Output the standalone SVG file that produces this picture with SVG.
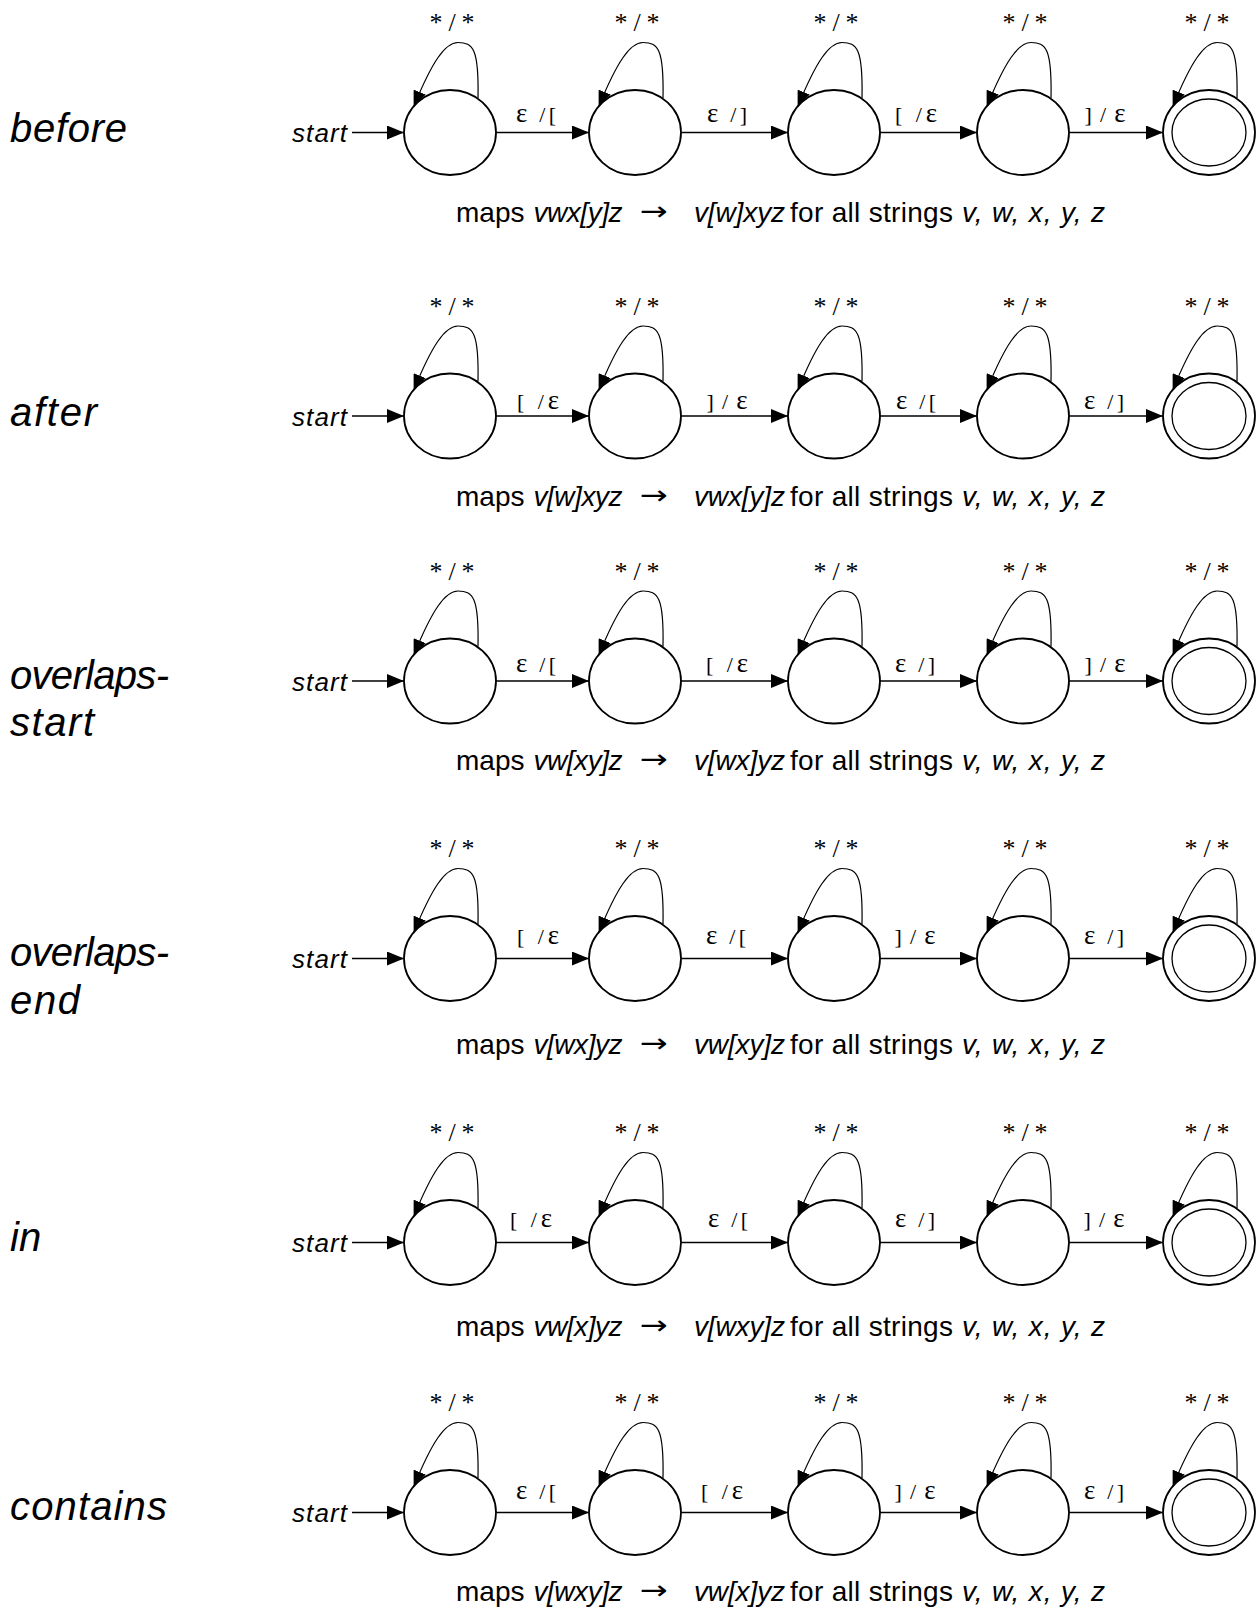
<svg xmlns="http://www.w3.org/2000/svg" width="1260" height="1608" viewBox="0 0 1260 1608">
<style>
.bg{fill:#fff}
.st{fill:#fff;stroke:#000;stroke-width:1.8}
.in{fill:none;stroke:#000;stroke-width:1.3}
.ln{fill:none;stroke:#000;stroke-width:1.3;marker-end:url(#ah)}
.lp{fill:none;stroke:#000;stroke-width:1.2;marker-end:url(#ahs)}
.row{font-family:"Liberation Sans",Arial,sans-serif;font-style:italic;font-size:40px;fill:#000}
.sl{font-family:"Liberation Sans",Arial,sans-serif;font-style:italic;font-size:26px;fill:#000}
.el{font-family:"Liberation Serif","Times New Roman",serif;font-size:22px;fill:#000;text-anchor:middle}
.e{font-size:27px}
.ll{font-family:"Liberation Serif","Times New Roman",serif;font-size:26px;fill:#000;text-anchor:middle}
.cap{font-family:"Liberation Sans",Arial,sans-serif;font-size:28px;fill:#000}
.i{font-style:italic}
.ar{font-family:"DejaVu Sans",sans-serif;font-size:26px;fill:#000}
</style>
<defs>
<marker id="ah" markerUnits="userSpaceOnUse" markerWidth="17" markerHeight="14" refX="17" refY="7" orient="auto"><path d="M0,0 L17,7 L0,14 z" fill="#000"/></marker>
<marker id="ahs" markerUnits="userSpaceOnUse" markerWidth="16" markerHeight="13" refX="15" refY="6.5" orient="auto"><path d="M0,0 L16,6.5 L0,13 z" fill="#000"/></marker>
</defs>
<rect class="bg" x="0" y="0" width="1260" height="1608"/>

<!-- Row labels -->
<g id="labels">
<text class="row" x="10" y="141.5" textLength="117" lengthAdjust="spacing">before</text>
<text class="row" x="10" y="425.5" textLength="87" lengthAdjust="spacing">after</text>
<text class="row" x="10" y="689" textLength="159" lengthAdjust="spacing">overlaps-</text>
<text class="row" x="10" y="736" textLength="84" lengthAdjust="spacing">start</text>
<text class="row" x="10" y="966" textLength="159" lengthAdjust="spacing">overlaps-</text>
<text class="row" x="10" y="1014" textLength="70" lengthAdjust="spacing">end</text>
<text class="row" x="10" y="1251">in</text>
<text class="row" x="10" y="1520" textLength="157" lengthAdjust="spacing">contains</text>
</g>

<!-- Nodes -->
<g id="r1n1"><ellipse class="st" cx="450" cy="132.5" rx="46" ry="42.5"/></g>
<g id="r1n2"><ellipse class="st" cx="635" cy="132.5" rx="46" ry="42.5"/></g>
<g id="r1n3"><ellipse class="st" cx="834" cy="132.5" rx="46" ry="42.5"/></g>
<g id="r1n4"><ellipse class="st" cx="1023" cy="132.5" rx="46" ry="42.5"/></g>
<g id="r1n5"><ellipse class="st" cx="1209" cy="132.5" rx="46" ry="42.5"/><ellipse class="in" cx="1209" cy="132.5" rx="37" ry="33.5"/></g>

<g id="r2n1"><ellipse class="st" cx="450" cy="416" rx="46" ry="42.5"/></g>
<g id="r2n2"><ellipse class="st" cx="635" cy="416" rx="46" ry="42.5"/></g>
<g id="r2n3"><ellipse class="st" cx="834" cy="416" rx="46" ry="42.5"/></g>
<g id="r2n4"><ellipse class="st" cx="1023" cy="416" rx="46" ry="42.5"/></g>
<g id="r2n5"><ellipse class="st" cx="1209" cy="416" rx="46" ry="42.5"/><ellipse class="in" cx="1209" cy="416" rx="37" ry="33.5"/></g>

<g id="r3n1"><ellipse class="st" cx="450" cy="681" rx="46" ry="42.5"/></g>
<g id="r3n2"><ellipse class="st" cx="635" cy="681" rx="46" ry="42.5"/></g>
<g id="r3n3"><ellipse class="st" cx="834" cy="681" rx="46" ry="42.5"/></g>
<g id="r3n4"><ellipse class="st" cx="1023" cy="681" rx="46" ry="42.5"/></g>
<g id="r3n5"><ellipse class="st" cx="1209" cy="681" rx="46" ry="42.5"/><ellipse class="in" cx="1209" cy="681" rx="37" ry="33.5"/></g>

<g id="r4n1"><ellipse class="st" cx="450" cy="958.5" rx="46" ry="42.5"/></g>
<g id="r4n2"><ellipse class="st" cx="635" cy="958.5" rx="46" ry="42.5"/></g>
<g id="r4n3"><ellipse class="st" cx="834" cy="958.5" rx="46" ry="42.5"/></g>
<g id="r4n4"><ellipse class="st" cx="1023" cy="958.5" rx="46" ry="42.5"/></g>
<g id="r4n5"><ellipse class="st" cx="1209" cy="958.5" rx="46" ry="42.5"/><ellipse class="in" cx="1209" cy="958.5" rx="37" ry="33.5"/></g>

<g id="r5n1"><ellipse class="st" cx="450" cy="1242.5" rx="46" ry="42.5"/></g>
<g id="r5n2"><ellipse class="st" cx="635" cy="1242.5" rx="46" ry="42.5"/></g>
<g id="r5n3"><ellipse class="st" cx="834" cy="1242.5" rx="46" ry="42.5"/></g>
<g id="r5n4"><ellipse class="st" cx="1023" cy="1242.5" rx="46" ry="42.5"/></g>
<g id="r5n5"><ellipse class="st" cx="1209" cy="1242.5" rx="46" ry="42.5"/><ellipse class="in" cx="1209" cy="1242.5" rx="37" ry="33.5"/></g>

<g id="r6n1"><ellipse class="st" cx="450" cy="1512.5" rx="46" ry="42.5"/></g>
<g id="r6n2"><ellipse class="st" cx="635" cy="1512.5" rx="46" ry="42.5"/></g>
<g id="r6n3"><ellipse class="st" cx="834" cy="1512.5" rx="46" ry="42.5"/></g>
<g id="r6n4"><ellipse class="st" cx="1023" cy="1512.5" rx="46" ry="42.5"/></g>
<g id="r6n5"><ellipse class="st" cx="1209" cy="1512.5" rx="46" ry="42.5"/><ellipse class="in" cx="1209" cy="1512.5" rx="37" ry="33.5"/></g>

<!-- Connectors -->
<g id="connectors">
<!-- row 1 -->
<line class="ln" x1="352" y1="132.5" x2="404" y2="132.5"/>
<line class="ln" x1="496" y1="132.5" x2="589" y2="132.5"/>
<line class="ln" x1="681" y1="132.5" x2="788" y2="132.5"/>
<line class="ln" x1="880" y1="132.5" x2="977" y2="132.5"/>
<line class="ln" x1="1069" y1="132.5" x2="1163" y2="132.5"/>
<path class="lp" transform="translate(450,132.5)" d="M28,-34.5 C29,-84 23,-90 8,-90 C-5,-90 -18,-70.5 -36,-26.5"/>
<path class="lp" transform="translate(635,132.5)" d="M28,-34.5 C29,-84 23,-90 8,-90 C-5,-90 -18,-70.5 -36,-26.5"/>
<path class="lp" transform="translate(834,132.5)" d="M28,-34.5 C29,-84 23,-90 8,-90 C-5,-90 -18,-70.5 -36,-26.5"/>
<path class="lp" transform="translate(1023,132.5)" d="M28,-34.5 C29,-84 23,-90 8,-90 C-5,-90 -18,-70.5 -36,-26.5"/>
<path class="lp" transform="translate(1209,132.5)" d="M28,-34.5 C29,-84 23,-90 8,-90 C-5,-90 -18,-70.5 -36,-26.5"/>
<!-- row 2 -->
<line class="ln" x1="352" y1="416" x2="404" y2="416"/>
<line class="ln" x1="496" y1="416" x2="589" y2="416"/>
<line class="ln" x1="681" y1="416" x2="788" y2="416"/>
<line class="ln" x1="880" y1="416" x2="977" y2="416"/>
<line class="ln" x1="1069" y1="416" x2="1163" y2="416"/>
<path class="lp" transform="translate(450,416)" d="M28,-34.5 C29,-84 23,-90 8,-90 C-5,-90 -18,-70.5 -36,-26.5"/>
<path class="lp" transform="translate(635,416)" d="M28,-34.5 C29,-84 23,-90 8,-90 C-5,-90 -18,-70.5 -36,-26.5"/>
<path class="lp" transform="translate(834,416)" d="M28,-34.5 C29,-84 23,-90 8,-90 C-5,-90 -18,-70.5 -36,-26.5"/>
<path class="lp" transform="translate(1023,416)" d="M28,-34.5 C29,-84 23,-90 8,-90 C-5,-90 -18,-70.5 -36,-26.5"/>
<path class="lp" transform="translate(1209,416)" d="M28,-34.5 C29,-84 23,-90 8,-90 C-5,-90 -18,-70.5 -36,-26.5"/>
<!-- row 3 -->
<line class="ln" x1="352" y1="681" x2="404" y2="681"/>
<line class="ln" x1="496" y1="681" x2="589" y2="681"/>
<line class="ln" x1="681" y1="681" x2="788" y2="681"/>
<line class="ln" x1="880" y1="681" x2="977" y2="681"/>
<line class="ln" x1="1069" y1="681" x2="1163" y2="681"/>
<path class="lp" transform="translate(450,681)" d="M28,-34.5 C29,-84 23,-90 8,-90 C-5,-90 -18,-70.5 -36,-26.5"/>
<path class="lp" transform="translate(635,681)" d="M28,-34.5 C29,-84 23,-90 8,-90 C-5,-90 -18,-70.5 -36,-26.5"/>
<path class="lp" transform="translate(834,681)" d="M28,-34.5 C29,-84 23,-90 8,-90 C-5,-90 -18,-70.5 -36,-26.5"/>
<path class="lp" transform="translate(1023,681)" d="M28,-34.5 C29,-84 23,-90 8,-90 C-5,-90 -18,-70.5 -36,-26.5"/>
<path class="lp" transform="translate(1209,681)" d="M28,-34.5 C29,-84 23,-90 8,-90 C-5,-90 -18,-70.5 -36,-26.5"/>
<!-- row 4 -->
<line class="ln" x1="352" y1="958.5" x2="404" y2="958.5"/>
<line class="ln" x1="496" y1="958.5" x2="589" y2="958.5"/>
<line class="ln" x1="681" y1="958.5" x2="788" y2="958.5"/>
<line class="ln" x1="880" y1="958.5" x2="977" y2="958.5"/>
<line class="ln" x1="1069" y1="958.5" x2="1163" y2="958.5"/>
<path class="lp" transform="translate(450,958.5)" d="M28,-34.5 C29,-84 23,-90 8,-90 C-5,-90 -18,-70.5 -36,-26.5"/>
<path class="lp" transform="translate(635,958.5)" d="M28,-34.5 C29,-84 23,-90 8,-90 C-5,-90 -18,-70.5 -36,-26.5"/>
<path class="lp" transform="translate(834,958.5)" d="M28,-34.5 C29,-84 23,-90 8,-90 C-5,-90 -18,-70.5 -36,-26.5"/>
<path class="lp" transform="translate(1023,958.5)" d="M28,-34.5 C29,-84 23,-90 8,-90 C-5,-90 -18,-70.5 -36,-26.5"/>
<path class="lp" transform="translate(1209,958.5)" d="M28,-34.5 C29,-84 23,-90 8,-90 C-5,-90 -18,-70.5 -36,-26.5"/>
<!-- row 5 -->
<line class="ln" x1="352" y1="1242.5" x2="404" y2="1242.5"/>
<line class="ln" x1="496" y1="1242.5" x2="589" y2="1242.5"/>
<line class="ln" x1="681" y1="1242.5" x2="788" y2="1242.5"/>
<line class="ln" x1="880" y1="1242.5" x2="977" y2="1242.5"/>
<line class="ln" x1="1069" y1="1242.5" x2="1163" y2="1242.5"/>
<path class="lp" transform="translate(450,1242.5)" d="M28,-34.5 C29,-84 23,-90 8,-90 C-5,-90 -18,-70.5 -36,-26.5"/>
<path class="lp" transform="translate(635,1242.5)" d="M28,-34.5 C29,-84 23,-90 8,-90 C-5,-90 -18,-70.5 -36,-26.5"/>
<path class="lp" transform="translate(834,1242.5)" d="M28,-34.5 C29,-84 23,-90 8,-90 C-5,-90 -18,-70.5 -36,-26.5"/>
<path class="lp" transform="translate(1023,1242.5)" d="M28,-34.5 C29,-84 23,-90 8,-90 C-5,-90 -18,-70.5 -36,-26.5"/>
<path class="lp" transform="translate(1209,1242.5)" d="M28,-34.5 C29,-84 23,-90 8,-90 C-5,-90 -18,-70.5 -36,-26.5"/>
<!-- row 6 -->
<line class="ln" x1="352" y1="1512.5" x2="404" y2="1512.5"/>
<line class="ln" x1="496" y1="1512.5" x2="589" y2="1512.5"/>
<line class="ln" x1="681" y1="1512.5" x2="788" y2="1512.5"/>
<line class="ln" x1="880" y1="1512.5" x2="977" y2="1512.5"/>
<line class="ln" x1="1069" y1="1512.5" x2="1163" y2="1512.5"/>
<path class="lp" transform="translate(450,1512.5)" d="M28,-34.5 C29,-84 23,-90 8,-90 C-5,-90 -18,-70.5 -36,-26.5"/>
<path class="lp" transform="translate(635,1512.5)" d="M28,-34.5 C29,-84 23,-90 8,-90 C-5,-90 -18,-70.5 -36,-26.5"/>
<path class="lp" transform="translate(834,1512.5)" d="M28,-34.5 C29,-84 23,-90 8,-90 C-5,-90 -18,-70.5 -36,-26.5"/>
<path class="lp" transform="translate(1023,1512.5)" d="M28,-34.5 C29,-84 23,-90 8,-90 C-5,-90 -18,-70.5 -36,-26.5"/>
<path class="lp" transform="translate(1209,1512.5)" d="M28,-34.5 C29,-84 23,-90 8,-90 C-5,-90 -18,-70.5 -36,-26.5"/>
</g>

<!-- start labels -->
<g id="start-labels">
<text class="sl" x="292" y="142" textLength="55" lengthAdjust="spacing">start</text>
<text class="sl" x="292" y="425.5" textLength="55" lengthAdjust="spacing">start</text>
<text class="sl" x="292" y="690.5" textLength="55" lengthAdjust="spacing">start</text>
<text class="sl" x="292" y="968" textLength="55" lengthAdjust="spacing">start</text>
<text class="sl" x="292" y="1252" textLength="55" lengthAdjust="spacing">start</text>
<text class="sl" x="292" y="1522" textLength="55" lengthAdjust="spacing">start</text>
</g>

<!-- loop labels -->
<g id="loop-labels">
<text class="ll" x="452" y="31" textLength="45" lengthAdjust="spacing">* / *</text>
<text class="ll" x="637" y="31" textLength="45" lengthAdjust="spacing">* / *</text>
<text class="ll" x="836" y="31" textLength="45" lengthAdjust="spacing">* / *</text>
<text class="ll" x="1025" y="31" textLength="45" lengthAdjust="spacing">* / *</text>
<text class="ll" x="1207" y="31" textLength="45" lengthAdjust="spacing">* / *</text>
<text class="ll" x="452" y="314.5" textLength="45" lengthAdjust="spacing">* / *</text>
<text class="ll" x="637" y="314.5" textLength="45" lengthAdjust="spacing">* / *</text>
<text class="ll" x="836" y="314.5" textLength="45" lengthAdjust="spacing">* / *</text>
<text class="ll" x="1025" y="314.5" textLength="45" lengthAdjust="spacing">* / *</text>
<text class="ll" x="1207" y="314.5" textLength="45" lengthAdjust="spacing">* / *</text>
<text class="ll" x="452" y="579.5" textLength="45" lengthAdjust="spacing">* / *</text>
<text class="ll" x="637" y="579.5" textLength="45" lengthAdjust="spacing">* / *</text>
<text class="ll" x="836" y="579.5" textLength="45" lengthAdjust="spacing">* / *</text>
<text class="ll" x="1025" y="579.5" textLength="45" lengthAdjust="spacing">* / *</text>
<text class="ll" x="1207" y="579.5" textLength="45" lengthAdjust="spacing">* / *</text>
<text class="ll" x="452" y="857" textLength="45" lengthAdjust="spacing">* / *</text>
<text class="ll" x="637" y="857" textLength="45" lengthAdjust="spacing">* / *</text>
<text class="ll" x="836" y="857" textLength="45" lengthAdjust="spacing">* / *</text>
<text class="ll" x="1025" y="857" textLength="45" lengthAdjust="spacing">* / *</text>
<text class="ll" x="1207" y="857" textLength="45" lengthAdjust="spacing">* / *</text>
<text class="ll" x="452" y="1141" textLength="45" lengthAdjust="spacing">* / *</text>
<text class="ll" x="637" y="1141" textLength="45" lengthAdjust="spacing">* / *</text>
<text class="ll" x="836" y="1141" textLength="45" lengthAdjust="spacing">* / *</text>
<text class="ll" x="1025" y="1141" textLength="45" lengthAdjust="spacing">* / *</text>
<text class="ll" x="1207" y="1141" textLength="45" lengthAdjust="spacing">* / *</text>
<text class="ll" x="452" y="1411" textLength="45" lengthAdjust="spacing">* / *</text>
<text class="ll" x="637" y="1411" textLength="45" lengthAdjust="spacing">* / *</text>
<text class="ll" x="836" y="1411" textLength="45" lengthAdjust="spacing">* / *</text>
<text class="ll" x="1025" y="1411" textLength="45" lengthAdjust="spacing">* / *</text>
<text class="ll" x="1207" y="1411" textLength="45" lengthAdjust="spacing">* / *</text>
</g>

<!-- edge labels -->
<g id="edge-labels">
<text class="el" x="536" y="122" textLength="40" lengthAdjust="spacing"><tspan class="e">ε</tspan> /[</text>
<text class="el" x="727" y="122" textLength="40" lengthAdjust="spacing"><tspan class="e">ε</tspan> /]</text>
<text class="el" x="916" y="122" textLength="42" lengthAdjust="spacing">[ /<tspan class="e">ε</tspan></text>
<text class="el" x="1105" y="122" textLength="41" lengthAdjust="spacing">]/<tspan class="e">ε</tspan></text>

<text class="el" x="538" y="408.5" textLength="42" lengthAdjust="spacing">[ /<tspan class="e">ε</tspan></text>
<text class="el" x="727" y="408.5" textLength="41" lengthAdjust="spacing">]/<tspan class="e">ε</tspan></text>
<text class="el" x="916" y="408.5" textLength="40" lengthAdjust="spacing"><tspan class="e">ε</tspan> /[</text>
<text class="el" x="1104" y="408.5" textLength="40" lengthAdjust="spacing"><tspan class="e">ε</tspan> /]</text>

<text class="el" x="536" y="672" textLength="40" lengthAdjust="spacing"><tspan class="e">ε</tspan> /[</text>
<text class="el" x="727" y="672" textLength="42" lengthAdjust="spacing">[ /<tspan class="e">ε</tspan></text>
<text class="el" x="915" y="672" textLength="40" lengthAdjust="spacing"><tspan class="e">ε</tspan> /]</text>
<text class="el" x="1105" y="672" textLength="41" lengthAdjust="spacing">]/<tspan class="e">ε</tspan></text>

<text class="el" x="538" y="944" textLength="42" lengthAdjust="spacing">[ /<tspan class="e">ε</tspan></text>
<text class="el" x="726" y="944" textLength="40" lengthAdjust="spacing"><tspan class="e">ε</tspan> /[</text>
<text class="el" x="915" y="944" textLength="41" lengthAdjust="spacing">]/<tspan class="e">ε</tspan></text>
<text class="el" x="1104" y="944" textLength="40" lengthAdjust="spacing"><tspan class="e">ε</tspan> /]</text>

<text class="el" x="531" y="1227" textLength="42" lengthAdjust="spacing">[ /<tspan class="e">ε</tspan></text>
<text class="el" x="728" y="1227" textLength="40" lengthAdjust="spacing"><tspan class="e">ε</tspan> /[</text>
<text class="el" x="915" y="1227" textLength="40" lengthAdjust="spacing"><tspan class="e">ε</tspan> /]</text>
<text class="el" x="1104" y="1227" textLength="41" lengthAdjust="spacing">]/<tspan class="e">ε</tspan></text>

<text class="el" x="536" y="1499" textLength="40" lengthAdjust="spacing"><tspan class="e">ε</tspan> /[</text>
<text class="el" x="722" y="1499" textLength="42" lengthAdjust="spacing">[ /<tspan class="e">ε</tspan></text>
<text class="el" x="915" y="1499" textLength="41" lengthAdjust="spacing">]/<tspan class="e">ε</tspan></text>
<text class="el" x="1104" y="1499" textLength="40" lengthAdjust="spacing"><tspan class="e">ε</tspan> /]</text>
</g>

<!-- captions -->
<g id="captions">
<g id="cap1">
<text class="cap" x="456" y="222">maps</text>
<text class="cap i" x="533.5" y="222" textLength="89" lengthAdjust="spacing">vwx[y]z</text>
<text class="ar" x="640" y="220" textLength="28" lengthAdjust="spacingAndGlyphs">→</text>
<text class="cap i" x="694" y="222" textLength="91" lengthAdjust="spacing">v[w]xyz</text>
<text class="cap" x="790" y="222" textLength="163" lengthAdjust="spacing">for all strings</text>
<text class="cap i" x="962" y="222" textLength="143" lengthAdjust="spacing">v, w, x, y, z</text>
</g>
<g id="cap2">
<text class="cap" x="456" y="505.5">maps</text>
<text class="cap i" x="533.5" y="505.5" textLength="89" lengthAdjust="spacing">v[w]xyz</text>
<text class="ar" x="640" y="503.5" textLength="28" lengthAdjust="spacingAndGlyphs">→</text>
<text class="cap i" x="694" y="505.5" textLength="91" lengthAdjust="spacing">vwx[y]z</text>
<text class="cap" x="790" y="505.5" textLength="163" lengthAdjust="spacing">for all strings</text>
<text class="cap i" x="962" y="505.5" textLength="143" lengthAdjust="spacing">v, w, x, y, z</text>
</g>
<g id="cap3">
<text class="cap" x="456" y="769.5">maps</text>
<text class="cap i" x="533.5" y="769.5" textLength="89" lengthAdjust="spacing">vw[xy]z</text>
<text class="ar" x="640" y="767.5" textLength="28" lengthAdjust="spacingAndGlyphs">→</text>
<text class="cap i" x="694" y="769.5" textLength="91" lengthAdjust="spacing">v[wx]yz</text>
<text class="cap" x="790" y="769.5" textLength="163" lengthAdjust="spacing">for all strings</text>
<text class="cap i" x="962" y="769.5" textLength="143" lengthAdjust="spacing">v, w, x, y, z</text>
</g>
<g id="cap4">
<text class="cap" x="456" y="1053.5">maps</text>
<text class="cap i" x="533.5" y="1053.5" textLength="89" lengthAdjust="spacing">v[wx]yz</text>
<text class="ar" x="640" y="1051.5" textLength="28" lengthAdjust="spacingAndGlyphs">→</text>
<text class="cap i" x="694" y="1053.5" textLength="91" lengthAdjust="spacing">vw[xy]z</text>
<text class="cap" x="790" y="1053.5" textLength="163" lengthAdjust="spacing">for all strings</text>
<text class="cap i" x="962" y="1053.5" textLength="143" lengthAdjust="spacing">v, w, x, y, z</text>
</g>
<g id="cap5">
<text class="cap" x="456" y="1336">maps</text>
<text class="cap i" x="533.5" y="1336" textLength="89" lengthAdjust="spacing">vw[x]yz</text>
<text class="ar" x="640" y="1334" textLength="28" lengthAdjust="spacingAndGlyphs">→</text>
<text class="cap i" x="694" y="1336" textLength="91" lengthAdjust="spacing">v[wxy]z</text>
<text class="cap" x="790" y="1336" textLength="163" lengthAdjust="spacing">for all strings</text>
<text class="cap i" x="962" y="1336" textLength="143" lengthAdjust="spacing">v, w, x, y, z</text>
</g>
<g id="cap6">
<text class="cap" x="456" y="1600.5">maps</text>
<text class="cap i" x="533.5" y="1600.5" textLength="89" lengthAdjust="spacing">v[wxy]z</text>
<text class="ar" x="640" y="1598.5" textLength="28" lengthAdjust="spacingAndGlyphs">→</text>
<text class="cap i" x="694" y="1600.5" textLength="91" lengthAdjust="spacing">vw[x]yz</text>
<text class="cap" x="790" y="1600.5" textLength="163" lengthAdjust="spacing">for all strings</text>
<text class="cap i" x="962" y="1600.5" textLength="143" lengthAdjust="spacing">v, w, x, y, z</text>
</g>
</g>
</svg>
